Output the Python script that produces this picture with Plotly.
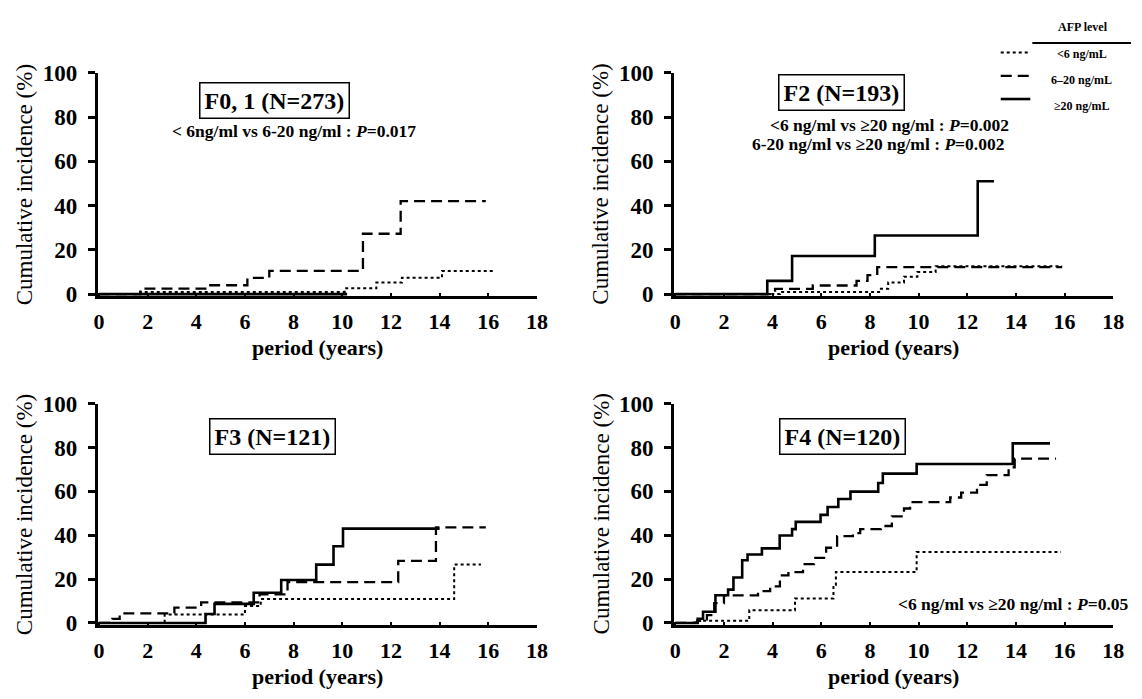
import plotly.graph_objects as go

W, H = 1142, 699

# ---------------- data (years, cumulative incidence %) ----------------
# F0,1
f01_lt6_t = [0, 1.7, 10.1, 11.4, 12.45, 14.1, 16.2]
f01_lt6_v = [0, 1.0, 2.6, 5.2, 7.4, 10.5, 10.5]
f01_mid_t = [0, 1.7, 4.5, 6.1, 7.0, 10.85, 12.4, 15.9]
f01_mid_v = [0, 2.5, 4.0, 7.3, 10.5, 27.3, 42.0, 42.0]
f01_ge20_t = [0, 10.2]
f01_ge20_v = [0, 0]
# F2
f2_lt6_t = [0, 4.3, 8.45, 8.75, 9.4, 9.95, 10.7, 15.9]
f2_lt6_v = [0, 1.0, 2.4, 5.3, 7.9, 10.0, 12.6, 12.6]
f2_mid_t = [0, 4.1, 5.65, 7.45, 7.9, 8.3, 15.9]
f2_mid_v = [0, 2.4, 3.9, 6.0, 8.6, 12.2, 12.2]
f2_ge20_t = [0, 3.78, 4.8, 8.2, 12.43, 13.1]
f2_ge20_v = [0, 6.0, 17.2, 26.5, 51.0, 51.0]
# F3
f3_lt6_t = [0, 2.7, 6.0, 6.65, 14.6, 15.7]
f3_lt6_v = [0, 3.8, 7.7, 10.9, 26.6, 26.6]
f3_mid_t = [0, 0.55, 0.85, 3.1, 4.2, 6.6, 7.75, 12.3, 13.85, 15.9]
f3_mid_v = [0, 1.9, 4.4, 7.0, 9.4, 13.0, 18.6, 28.3, 43.6, 43.6]
f3_ge20_t = [0, 4.38, 4.75, 6.36, 7.49, 8.93, 9.64, 10.03, 14.0]
f3_ge20_v = [0, 4.1, 8.7, 13.8, 19.6, 26.6, 35.0, 43.0, 43.0]
# F4
f4_lt6_t = [0, 0.8, 3.04, 4.92, 6.5, 6.6, 9.92, 15.85]
f4_lt6_v = [0, 1.0, 5.8, 11.2, 17.4, 23.2, 32.3, 32.3]
f4_mid_t = [0, 0.9, 1.3, 1.6, 2.0, 3.4, 3.9, 4.3, 4.65, 5.25, 5.7, 6.2, 6.65, 7.3,
            7.6, 8.45, 8.9, 9.4, 9.65, 11.3, 11.75, 12.4, 12.8, 13.7, 13.95, 15.65]
f4_mid_v = [0, 1.0, 3.6, 9.0, 12.6, 14.5, 16.7, 21.7, 23.2, 26.8, 29.7, 34.3, 39.6, 41.0,
            42.8, 44.2, 48.6, 52.2, 55.1, 57.2, 59.4, 63.0, 67.4, 71.0, 74.9, 74.9]
f4_ge20_t = [0, 0.92, 1.14, 1.65, 2.17, 2.39, 2.75, 2.97, 3.56, 4.29, 4.8, 4.95, 5.97,
             6.26, 6.7, 7.2, 8.34, 8.53, 9.92, 13.87, 15.4]
f4_ge20_v = [0, 1.9, 5.1, 12.6, 15.2, 20.7, 28.6, 31.2, 34.0, 39.9, 42.8, 46.1, 49.3,
             52.9, 56.5, 59.9, 63.8, 68.1, 72.5, 81.9, 81.9]

panel_titles = ["F0, 1 (N=273)", "F2 (N=193)", "F3 (N=121)", "F4 (N=120)"]
group_labels = ["<6 ng/mL", "6–20 ng/mL", "≥20 ng/mL"]
x_ticks = [0, 2, 4, 6, 8, 10, 12, 14, 16, 18]
y_ticks = [0, 20, 40, 60, 80, 100]

panels = [
    [(f01_lt6_t, f01_lt6_v), (f01_mid_t, f01_mid_v), (f01_ge20_t, f01_ge20_v)],
    [(f2_lt6_t, f2_lt6_v), (f2_mid_t, f2_mid_v), (f2_ge20_t, f2_ge20_v)],
    [(f3_lt6_t, f3_lt6_v), (f3_mid_t, f3_mid_v), (f3_ge20_t, f3_ge20_v)],
    [(f4_lt6_t, f4_lt6_v), (f4_mid_t, f4_mid_v), (f4_ge20_t, f4_ge20_v)],
]

styles = [dict(dash="dot", width=2.0), dict(dash="11px,6px", width=2.3), dict(dash="solid", width=2.6)]

SERIF = "Liberation Serif, Times New Roman, serif"


def px(x):
    return x / W


def py(y):
    return 1 - y / H


# panel pixel boxes: (left, right, top, bottom)
boxes = [(95, 540, 63, 294), (679, 1124, 63, 294), (95, 540, 405, 634), (679, 1124, 405, 634)]

fig = go.Figure()
for i, series in enumerate(panels):
    ax = "" if i == 0 else str(i + 1)
    for j, (t, v) in enumerate(series):
        fig.add_trace(go.Scatter(
            x=t, y=v, mode="lines", line_shape="hv",
            line=dict(color="black", **styles[j]),
            name=group_labels[j], showlegend=False,
            xaxis="x" + ax, yaxis="y" + ax,
        ))

layout = dict(
    width=W, height=H, margin=dict(l=0, r=0, t=0, b=0),
    paper_bgcolor="white", plot_bgcolor="white",
    font=dict(family=SERIF, color="black"),
    showlegend=False,
)
for i, (l, r, t, b) in enumerate(boxes):
    ax = "" if i == 0 else str(i + 1)
    layout["xaxis" + ax] = dict(
        domain=[px(l), px(r)], anchor="y" + ax, range=[-0.05, 18],
        tickvals=x_ticks, ticktext=[f"<b>{v}</b>" for v in x_ticks],
        showline=True, linewidth=3, linecolor="black", showgrid=False, zeroline=False,
        ticks="inside", ticklen=3, tickwidth=2, tickcolor="black",
        tickfont=dict(size=22, family=SERIF), ticklabelstandoff=3,
    )
    layout["yaxis" + ax] = dict(
        domain=[py(b), py(t)], anchor="x" + ax, range=[-1, 100],
        tickvals=y_ticks, ticktext=[f"<b>{v}</b>" for v in y_ticks],
        showline=True, linewidth=3, linecolor="black", showgrid=False, zeroline=False,
        ticks="outside", ticklen=7, tickwidth=2.5, tickcolor="black",
        tickfont=dict(size=23, family=SERIF), ticklabelstandoff=6,
    )
fig.update_layout(**layout)

ann = []
shapes = []
title_pos = [(274, 91), (849, 83), (272, 439), (850, 439)]
for i, (l, r, t, b) in enumerate(boxes):
    # axis titles
    ann.append(dict(x=px(l - 74), y=py((t + b) / 2), xref="paper", yref="paper",
                    text="Cumulative incidence (%)", textangle=-90, showarrow=False,
                    font=dict(size=23, family=SERIF), xanchor="center", yanchor="middle"))
    ann.append(dict(x=px((l + r) / 2), y=py(b + 53), xref="paper", yref="paper",
                    text="<b>period (years)</b>", showarrow=False,
                    font=dict(size=22, family=SERIF), xanchor="center", yanchor="middle"))
    tx, ty = title_pos[i]
    ann.append(dict(x=px(tx), y=py(ty), xref="paper", yref="paper",
                    text=f"<b>{panel_titles[i]}</b>", showarrow=False,
                    font=dict(size=24, family=SERIF), xanchor="center", yanchor="middle",
                    bordercolor="black", borderwidth=1.5, borderpad=4, bgcolor="white"))

stats = [
    (294, 123, "<b>&lt; 6ng/ml vs 6-20 ng/ml : <i>P</i>=0.017</b>"),
    (897, 117, "<b>&lt;6 ng/ml vs ≥20 ng/ml : <i>P</i>=0.002</b>"),
    (886, 136, "<b>6-20 ng/ml vs ≥20 ng/ml : <i>P</i>=0.002</b>"),
    (1023, 612, "<b>&lt;6 ng/ml vs ≥20 ng/ml : <i>P</i>=0.05</b>"),
]
for x, y, txt in stats:
    ann.append(dict(x=px(x), y=py(y), xref="paper", yref="paper", text=txt, showarrow=False,
                    font=dict(size=17.5, family=SERIF), xanchor="center", yanchor="middle"))

# legend (top right)
ann.append(dict(x=px(1093), y=py(16), xref="paper", yref="paper", text="<b>AFP level</b>",
                showarrow=False, font=dict(size=12, family=SERIF), xanchor="center", yanchor="middle"))
shapes.append(dict(type="line", xref="paper", yref="paper", x0=px(1042), x1=px(1142),
                   y0=py(32), y1=py(32), line=dict(color="black", width=2)))
leg_y = [(42, 43), (66, 70), (90, 97)]
for j, (sy, ty) in enumerate(leg_y):
    shapes.append(dict(type="line", xref="paper", yref="paper", x0=px(1010), x1=px(1040),
                       y0=py(sy), y1=py(sy), line=dict(color="black", **styles[j])))
    ann.append(dict(x=px(1092), y=py(ty), xref="paper", yref="paper",
                    text=f"<b>{group_labels[j]}</b>", showarrow=False,
                    font=dict(size=12, family=SERIF), xanchor="center", yanchor="middle"))

fig.update_layout(annotations=ann, shapes=shapes)
fig.write_html("out.html", config={"displayModeBar": False},
               post_script="document.body.style.margin='0';document.body.style.overflow='hidden';")
